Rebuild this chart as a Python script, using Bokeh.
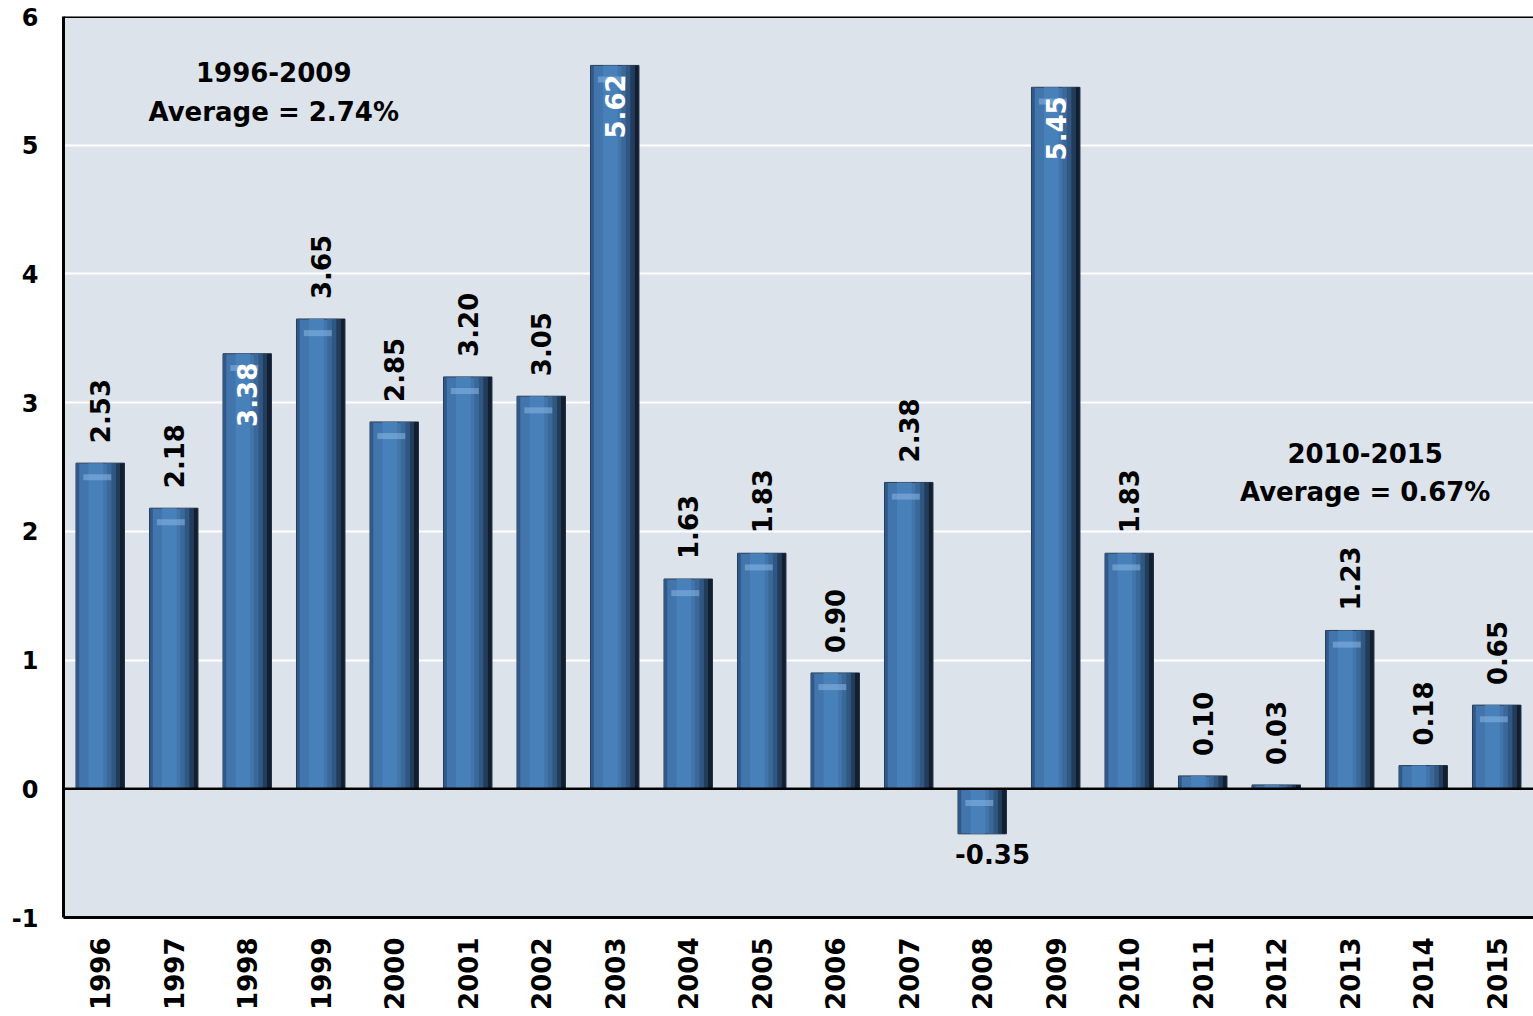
import math
from bokeh.plotting import figure
from bokeh.models import ColumnDataSource, FactorRange, FixedTicker, Span, Label
from bokeh.transform import dodge
from bokeh.core.properties import value
from bokeh.embed import file_html
from bokeh.resources import INLINE

# Annual growth, percent
years = [str(y) for y in range(1996, 2016)]
growth = [2.53, 2.18, 3.38, 3.65, 2.85, 3.20, 3.05, 5.62, 1.63, 1.83,
          0.90, 2.38, -0.35, 5.45, 1.83, 0.10, 0.03, 1.23, 0.18, 0.65]
y_ticks = [-1, 0, 1, 2, 3, 4, 5, 6]
period_notes = [("1996-2009", "Average = 2.74%"), ("2010-2015", "Average = 0.67%")]

# years whose value is printed inside the bar in white
inside_years = {"1998", "2003", "2009"}

FONT_NAME = "DejaVu Sans"
FONT = value(FONT_NAME)
BG = "#dde3ea"

labels = [f"{v:.2f}" for v in growth]
hl = [(max(v, 0) - 0.11) if abs(v) > 0.25 else float("nan") for v in growth]
src = ColumnDataSource(dict(year=years, v=growth, lab=labels, hl=hl))

p = figure(x_range=FactorRange(factors=years, range_padding=0),
           y_range=(-1, 6), width=1533, height=1016,
           output_backend="svg", toolbar_location=None,
           min_border_left=63, min_border_right=0,
           min_border_top=16, min_border_bottom=99)
p.background_fill_color = BG
p.border_fill_color = "white"
p.outline_line_color = None

# bars with a shaded bevel: base, then vertical shading strips
p.vbar(x="year", top="v", bottom=0, width=0.66, source=src,
       fill_color="#4275ab", line_color="#2a3c52", line_width=1)
shade = [(-0.305, 0.04, "#30598a"), (-0.06, 0.2, "#4880ba"),
         (0.12, 0.06, "#3a6899"), (0.18, 0.06, "#2f5782"),
         (0.24, 0.06, "#223c5c"), (0.298, 0.058, "#131e2e")]
for off, w, c in shade:
    p.vbar(x=dodge("year", off, range=p.x_range), top="v", bottom=0, width=w,
           source=src, fill_color=c, line_color=None)
p.rect(x=dodge("year", -0.04, range=p.x_range), y="hl", width=0.38, height=6,
       height_units="screen", source=src, fill_color="#8ab6e4", fill_alpha=0.55,
       line_color=None)

# value labels
out_pos = ColumnDataSource(dict(
    year=[y for y, v in zip(years, growth) if v >= 0 and y not in inside_years],
    v=[v for y, v in zip(years, growth) if v >= 0 and y not in inside_years],
    lab=[f"{v:.2f}" for y, v in zip(years, growth) if v >= 0 and y not in inside_years]))
in_pos = ColumnDataSource(dict(
    year=[y for y in years if y in inside_years],
    v=[v for y, v in zip(years, growth) if y in inside_years],
    lab=[f"{v:.2f}" for y, v in zip(years, growth) if y in inside_years]))
neg = ColumnDataSource(dict(
    year=[y for y, v in zip(years, growth) if v < 0],
    v=[v for v in growth if v < 0],
    lab=[f"{v:.2f}" for v in growth if v < 0]))

p.text(x="year", y="v", text="lab", source=out_pos, angle=math.pi / 2,
       text_align="left", text_baseline="middle", y_offset=-20,
       text_font=FONT, text_font_style="bold", text_font_size="26px",
       text_color="black")
p.text(x="year", y="v", text="lab", source=in_pos, angle=math.pi / 2,
       text_align="right", text_baseline="middle", y_offset=9,
       text_font=FONT, text_font_style="bold", text_font_size="26px",
       text_color="white")
p.text(x=dodge("year", 0.14, range=p.x_range), y="v", text="lab", source=neg,
       text_align="center", text_baseline="top", y_offset=10,
       text_font=FONT, text_font_style="bold", text_font_size="26px",
       text_color="black")

# period averages
for (title, avg), xc, yc in zip(period_notes, [2.86, 17.71], [5.565, 2.61]):
    for txt, dy in [(title, 0.0), (avg, -0.305)]:
        p.add_layout(Label(x=xc, y=yc + dy, text=txt, text_align="center",
                           text_baseline="middle", text_font=FONT_NAME,
                           text_font_style="bold", text_font_size="26px",
                           text_color="black"))

# frame lines
p.add_layout(Span(location=0, dimension="width", line_color="black", line_width=2.5))
p.add_layout(Span(location=6, dimension="width", line_color="black", line_width=3))

p.xgrid.grid_line_color = None
p.ygrid.grid_line_color = "white"
p.ygrid.grid_line_width = 2
p.yaxis.ticker = FixedTicker(ticks=y_ticks)
p.yaxis.major_label_overrides = {t: str(t) for t in y_ticks}

for ax in (p.xaxis[0], p.yaxis[0]):
    ax.axis_line_color = "black"
    ax.axis_line_width = 3
    ax.major_tick_line_color = None
    ax.minor_tick_line_color = None
    ax.major_label_text_font = FONT_NAME
    ax.major_label_text_font_style = "bold"
    ax.major_label_text_color = "black"

p.yaxis.major_label_text_font_size = "24px"
p.yaxis.major_label_standoff = 19
p.xaxis.major_label_text_font_size = "26px"
p.xaxis.major_label_orientation = math.pi / 2
p.xaxis.major_label_standoff = 14

open("out.html", "w").write(file_html(p, INLINE))
